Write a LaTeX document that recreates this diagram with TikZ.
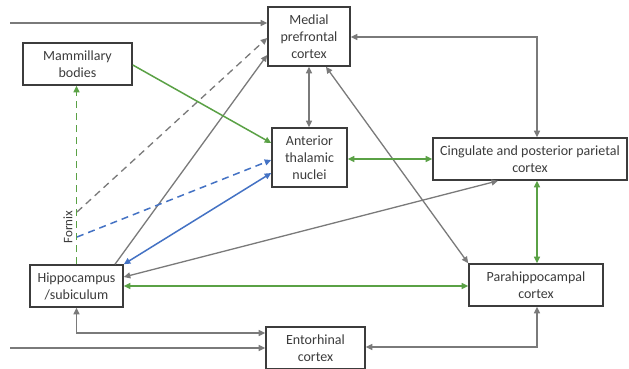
\documentclass[tikz,border=0pt]{standalone}
\usepackage{fontspec}
\setmainfont{Carlito}
\usetikzlibrary{arrows.meta}
\definecolor{txtc}{HTML}{3C3C3C}
\definecolor{linec}{HTML}{7A7A7A}
\definecolor{grn}{HTML}{5AA145}
\definecolor{blu}{HTML}{4472C4}
\tikzset{
  box/.style={draw=txtc, line width=1.6pt, text=txtc, align=center, inner sep=0pt,
    font=\fontsize{14}{17}\selectfont},
  tip/.style={-{Triangle[length=6.5pt,width=6pt]}},
  dtip/.style={{Triangle[length=6.5pt,width=6pt]}-{Triangle[length=6.5pt,width=6pt]}},
  gl/.style={draw=linec, line width=1.3pt},
  gn/.style={draw=grn, line width=1.5pt},
  bl/.style={draw=blu, line width=1.5pt},
  dsh/.style={dash pattern=on 7pt off 5pt},
}
\begin{document}
\begin{tikzpicture}[x=1pt,y=-1pt]
\clip (0,0) rectangle (629,368);
\useasboundingbox (0,0) rectangle (629,368);
\fill[white] (0,0) rectangle (629,368);
% boxes
\node[box, minimum width=82pt, minimum height=59pt] (mpc) at (309,36.5) {Medial\\prefrontal\\cortex};
\node[box, minimum width=109pt, minimum height=42pt] (mam) at (77.5,64) {Mammillary\\bodies};
\node[box, minimum width=75pt, minimum height=59pt] (atn) at (309.5,157.5) {Anterior\\thalamic\\nuclei};
\node[box, minimum width=194pt, minimum height=42pt] (cin) at (530,159) {Cingulate and posterior parietal\\cortex};
\node[box, minimum width=93pt, minimum height=42pt] (hip) at (76.5,286) {Hippocampus\\/subiculum};
\node[box, minimum width=134pt, minimum height=42pt] (par) at (536,285) {Parahippocampal\\cortex};
\node[box, minimum width=99pt, minimum height=42pt] (ent) at (315.5,348) {Entorhinal\\cortex};
% free ends
\coordinate (in1) at (10,23);
\coordinate (in2) at (10,348);
\coordinate (fxg) at (77,212);
\coordinate (fxb) at (77,237);
% fornix label
\node[text=txtc, rotate=90, font=\fontsize{13}{15}\selectfont, inner sep=0pt] (fornix) at (68,227) {Fornix};
% connectors
\draw[gl, tip] (in1) -- (mpc.west |- in1);
\draw[gl, tip, dsh] (fxg) -- (mpc.west |- 0,38);
\draw[gl, tip] (hip.north -| 115,0) -- (mpc.west |- 0,55);
\draw[gn, tip] (mam.east |- 0,65) -- (atn.west |- 0,143);
\draw[gn, tip, dsh] (hip.north) -- (mam.south -| hip.north);
\draw[bl, tip, dsh] (fxb) -- (atn.west |- 0,160);
\draw[bl, dtip] (atn.west |- 0,173) -- (hip.north east);
\draw[gl, dtip] (mpc.south) -- (atn.north -| mpc.south);
\draw[gl, dtip] (mpc.east |- 0,37) -| ([xshift=7pt]cin.north);
\draw[gl, dtip] (mpc.south -| 326,0) -- (par.north west);
\draw[gn, dtip] (atn.east |- cin.west) -- (cin.west);
\draw[gl, dtip] (cin.south -| 498,0) -- (hip.east |- 0,277);
\draw[gn, dtip] (hip.east) -- (par.west |- hip.east);
\draw[gn, dtip] (cin.south -| 537,0) -- (par.north -| 537,0);
\draw[gl, dtip] (hip.south) |- (ent.west |- 0,333);
\draw[gl, tip] (in2) -- (ent.west |- in2);
\draw[gl, dtip] (par.south -| 537,0) |- (ent.east |- 0,347);
\end{tikzpicture}
\end{document}
